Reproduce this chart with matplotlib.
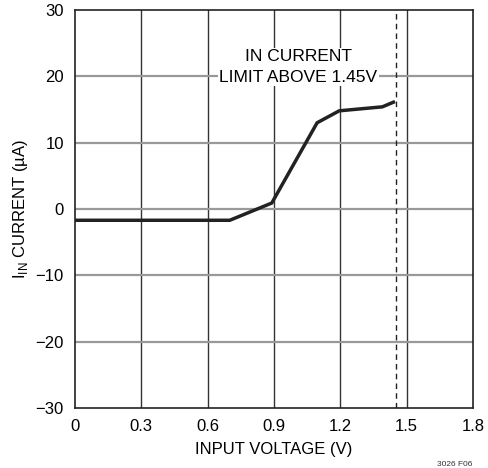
import matplotlib
matplotlib.use('Agg')
import matplotlib.pyplot as plt

plt.rcParams['font.family'] = ['Liberation Sans Narrow', 'Liberation Sans', 'DejaVu Sans']

# input voltage (V) vs input current (uA)
volts = [0.0, 0.70, 0.89, 1.095, 1.195, 1.39, 1.44]
current = [-1.7, -1.7, 0.9, 13.0, 14.8, 15.4, 16.1]
limit_v = 1.45

x_ticks = [0, 0.3, 0.6, 0.9, 1.2, 1.5, 1.8]
x_labels = ['0', '0.3', '0.6', '0.9', '1.2', '1.5', '1.8']
y_ticks = [-30, -20, -10, 0, 10, 20, 30]
y_labels = ['\u221230', '\u221220', '\u221210', '0', '10', '20', '30']

fig = plt.figure(figsize=(4.89, 4.68), dpi=100)
ax = fig.add_axes([75/489., 60/468., 398/489., 398/468.])

ax.set_xlim(0, 1.8)
ax.set_ylim(-30, 30)
ax.set_xticks(x_ticks)
ax.set_xticklabels(x_labels)
ax.set_yticks(y_ticks)
ax.set_yticklabels(y_labels)
ax.tick_params(length=0, labelsize=12, pad=8)

for v in x_ticks[1:-1]:
	ax.axvline(v, color='#333333', lw=1.0, zorder=1)
for i in y_ticks[1:-1]:
	ax.axhline(i, color='#999999', lw=1.6, zorder=1)

ax.axvline(limit_v, color='#222222', lw=1.0, ls=(0, (4, 3)), zorder=2)
ax.plot(volts, current, color='#222222', lw=2.5, solid_joinstyle='miter', zorder=3)

ax.text(1.01, 21.4, 'IN CURRENT\nLIMIT ABOVE 1.45V', ha='center', va='center',
	fontsize=12.5, linespacing=1.45, zorder=4,
	bbox=dict(facecolor='white', edgecolor='none', pad=1))

for s in ax.spines.values():
	s.set_color('#222222')
	s.set_linewidth(1.2)

ax.set_xlabel('INPUT VOLTAGE (V)', fontsize=12, labelpad=6)
ax.set_ylabel('I$_{\\mathregular{IN}}$ CURRENT (\u00b5A)', fontsize=12, labelpad=4)

fig.text(455/489., 1 - 464/468., '3026 F06', fontsize=6, ha='center', va='center', color='#333333')

fig.savefig('out.png', dpi=100)
